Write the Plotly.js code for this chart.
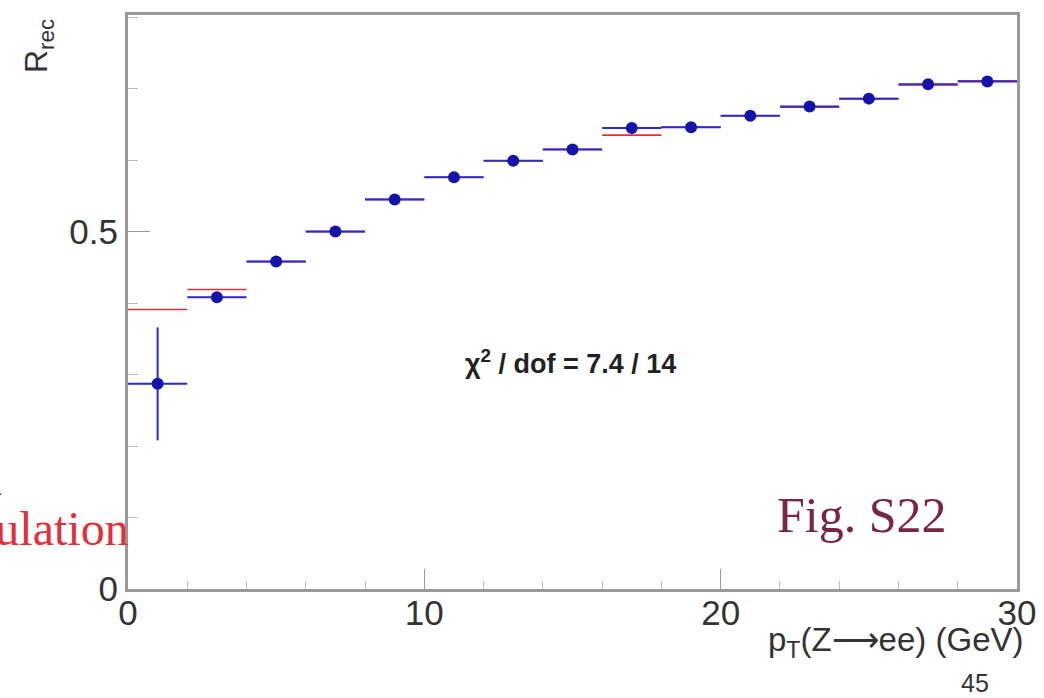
<!DOCTYPE html>
<html>
<head>
<meta charset="utf-8">
<script src="https://cdn.plot.ly/plotly-3.0.1.min.js"></script>
<style>html,body{margin:0;padding:0;background:#fff;}#chart{width:1044px;height:698px;}</style>
</head>
<body>
<div id="chart"></div>
<script>
// Bin centres of pT(Z->ee) in GeV (bin width 2 GeV)
const binCenters = [1, 3, 5, 7, 9, 11, 13, 15, 17, 19, 21, 23, 25, 27, 29];
const binHalfWidth = [1, 1, 1, 1, 1, 1, 1, 1, 1, 1, 1, 1, 1, 1, 1];
// Data (blue points)
const dataRrec = [0.287, 0.408, 0.458, 0.500, 0.545, 0.576, 0.599, 0.615, 0.645, 0.646, 0.662, 0.675, 0.686, 0.706, 0.710];
const dataErr  = [0.079, 0.006, 0.005, 0.005, 0.005, 0.005, 0.005, 0.005, 0.005, 0.005, 0.005, 0.005, 0.005, 0.005, 0.005];
// Simulation (red histogram)
const simRrec  = [0.391, 0.419, 0.458, 0.500, 0.545, 0.576, 0.599, 0.615, 0.635, 0.646, 0.662, 0.674, 0.686, 0.705, 0.711];
// Axis ticks
const xTickVals = [0, 10, 20, 30];
const yTickVals = [0, 0.5];
const yTickText = ["0", "0.5"];

const L = 128, R = 27, T = 15, B = 109, W = 1044, H = 698;
const PW = W - L - R, PH = H - T - B;
const px = x => (x - L) / PW;
const py = y => (H - B - y) / PH;

const simTrace = {
  x: binCenters, y: simRrec, type: 'scatter', mode: 'markers',
  marker: {size: 1, color: 'rgba(0,0,0,0)'},
  error_x: {type: 'data', array: binHalfWidth, visible: true, color: '#e0303a', thickness: 1.6, width: 0},
  hoverinfo: 'skip', showlegend: false
};
const dataTrace = {
  x: binCenters, y: dataRrec, type: 'scatter', mode: 'markers',
  marker: {size: 12, color: '#1414a8'},
  error_x: {type: 'data', array: binHalfWidth, visible: true, color: '#2a2ad0', thickness: 2, width: 0},
  error_y: {type: 'data', array: dataErr, visible: true, color: '#2a2ad0', thickness: 2, width: 0},
  showlegend: false
};

const layout = {
  width: W, height: H,
  margin: {l: L, r: R, t: T, b: B},
  paper_bgcolor: '#fff', plot_bgcolor: '#fff',
  font: {family: 'Liberation Sans, Arial, sans-serif', color: '#333'},
  xaxis: {
    range: [0, 30], tickvals: xTickVals, ticks: 'inside', ticklen: 20, tickwidth: 1.5, tickcolor: '#999',
    showline: true, linecolor: '#999', linewidth: 3, mirror: true, showgrid: false, zeroline: false,
    tickfont: {size: 35, color: '#333'}, ticklabelstandoff: -9,
    minor: {dtick: 2, ticks: 'inside', ticklen: 8, tickcolor: '#bbb', tickwidth: 1, showgrid: false}
  },
  yaxis: {
    range: [0, 0.803], tickvals: yTickVals, ticktext: yTickText, ticks: 'inside', ticklen: 22, tickwidth: 1.5, tickcolor: '#999',
    showline: true, linecolor: '#999', linewidth: 3, mirror: true, showgrid: false, zeroline: false,
    tickfont: {size: 35, color: '#333'},
    minor: {dtick: 0.1, ticks: 'inside', ticklen: 10, tickcolor: '#bbb', tickwidth: 1, showgrid: false}
  },
  annotations: [
    {xref: 'paper', yref: 'paper', x: px(570), y: py(362), xanchor: 'center', yanchor: 'middle', showarrow: false,
     text: '<b>χ<sup>2</sup> / dof = 7.4 / 14</b>', font: {size: 27, color: '#222', family: 'Liberation Sans, Arial'}},
    {xref: 'paper', yref: 'paper', x: px(862), y: py(515), xanchor: 'center', yanchor: 'middle', showarrow: false,
     text: 'Fig. S22', font: {size: 50, color: '#7a2642', family: 'Liberation Serif, Times New Roman, serif'}},
    {xref: 'paper', yref: 'paper', x: px(131), y: py(528), xanchor: 'right', yanchor: 'middle', showarrow: false,
     text: 'Simulation', font: {size: 48, color: '#e0303a', family: 'Liberation Serif, Times New Roman, serif'}},
    {xref: 'paper', yref: 'paper', x: px(4), y: py(478), xanchor: 'right', yanchor: 'middle', showarrow: false,
     text: 'Data', font: {size: 48, color: '#2020d0', family: 'Liberation Serif, Times New Roman, serif'}},
    {xref: 'paper', yref: 'paper', x: px(1026), y: py(642), xanchor: 'right', yanchor: 'middle', showarrow: false,
     text: 'p<sub>T</sub>(Z⟶ee) (GeV)', font: {size: 33, color: '#333', family: 'Liberation Sans, Arial'}},
    {xref: 'paper', yref: 'paper', x: px(975), y: py(683), xanchor: 'center', yanchor: 'middle', showarrow: false,
     text: '45', font: {size: 25, color: '#333', family: 'Liberation Sans, Arial'}},
    {xref: 'paper', yref: 'paper', x: px(38), y: py(46), xanchor: 'center', yanchor: 'middle', showarrow: false, textangle: -90,
     text: 'R<sub>rec</sub>', font: {size: 32, color: '#333', family: 'Liberation Sans, Arial'}}
  ]
};

Plotly.newPlot('chart', [simTrace, dataTrace], layout, {displayModeBar: false, staticPlot: true});
</script>
</body>
</html>
